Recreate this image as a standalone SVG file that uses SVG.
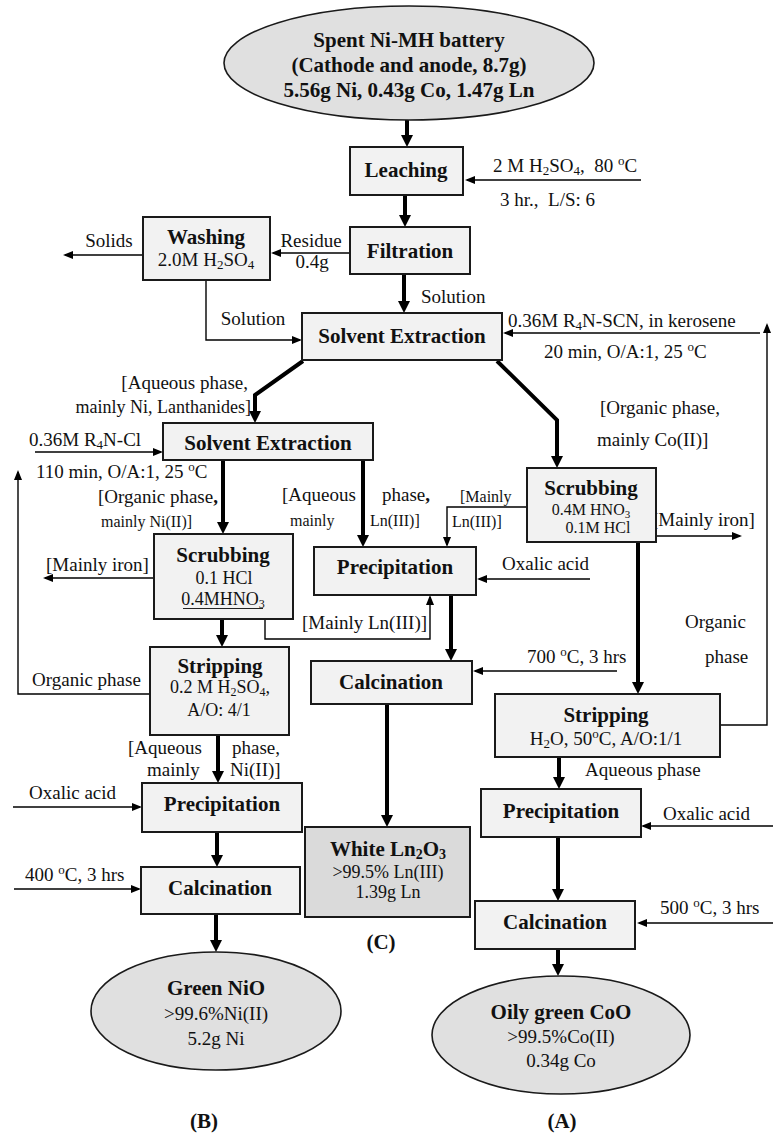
<svg xmlns="http://www.w3.org/2000/svg" width="773" height="1134" viewBox="0 0 773 1134">
<style>
.box{fill:#f2f2f2;stroke:#1a1a1a;stroke-width:2}
.dark{fill:#dadada}
.oval{fill:#e0e0e0;stroke:#1a1a1a;stroke-width:1.6}
.t{font-family:"Liberation Serif","Times New Roman",serif;font-weight:bold;font-size:21px;text-anchor:middle;fill:#111}
.l{font-family:"Liberation Serif","Times New Roman",serif;font-size:19px;fill:#111}
.m{text-anchor:middle}
.e{text-anchor:end}
.s{font-size:16px}
.s18{font-size:18px}
.thick{stroke:#000;stroke-width:4;fill:none;marker-end:url(#ah)}
.thin{stroke:#000;stroke-width:1.4;fill:none;marker-end:url(#at)}
.ln{stroke:#000;stroke-width:1.4;fill:none}
</style>
<defs>
<marker id="ah" markerUnits="userSpaceOnUse" markerWidth="12" markerHeight="12" refX="8" refY="6" orient="auto"><path d="M0,0 L12,6 L0,12 z" fill="#000"/></marker>
<marker id="at" markerUnits="userSpaceOnUse" markerWidth="10" markerHeight="8" refX="8" refY="4" orient="auto"><path d="M0,0 L10,4 L0,8 z" fill="#000"/></marker>
</defs>
<g id="connectors">
<path class="thick" d="M407,120 V143"/>
<path class="thin" d="M641,180 H467"/>
<path class="thick" d="M405,195 V223"/>
<path class="thin" d="M350,253 H273"/>
<path class="thin" d="M143,255 H65"/>
<path class="thin" d="M206,280 V340 H300"/>
<path class="thick" d="M404,274 V309"/>
<path class="thin" d="M760,333 H505"/>
<path class="thin" d="M720,725 H767 V325"/>
<path class="thick" d="M303,361 L255,395 V419"/>
<path class="thick" d="M497,361 L557,420 V464"/>
<path class="thin" d="M35,452 H161"/>
<path class="thin" d="M150,694 H18 V472"/>
<path class="thick" d="M223,460 V530"/>
<path class="thick" d="M363,460 V543"/>
<path class="thin" d="M543,507 H447 V545"/>
<path class="thin" d="M630,536 H740"/>
<path class="thick" d="M638,542 V690"/>
<path class="thin" d="M187,578 H45"/>
<path class="thin" d="M265,607 V639 H430 V597"/>
<path class="thin" d="M590,579 H479"/>
<path class="thick" d="M451,595 V657"/>
<path class="thin" d="M617,671 H475"/>
<path class="thick" d="M387,704 V823"/>
<path class="thick" d="M222,619 V643"/>
<path class="thick" d="M218,735 V779"/>
<path class="thin" d="M13,807 H140"/>
<path class="thick" d="M217,832 V863"/>
<path class="thin" d="M14,889 H139"/>
<path class="thick" d="M216,914 V948"/>
<path class="thick" d="M559,757 V785"/>
<path class="thin" d="M773,826 H643"/>
<path class="thick" d="M558,837 V897"/>
<path class="thin" d="M773,923 H639"/>
<path class="thick" d="M558,949 V972"/>
<text class="l" x="493" y="172">2 M H<tspan font-size="13" baseline-shift="-3">2</tspan>SO<tspan font-size="13" baseline-shift="-3">4</tspan>,&#160; 80 <tspan font-size="13" baseline-shift="7">o</tspan>C</text>
<text class="l" x="500" y="206">3 hr.,&#160; L/S: 6</text>
<text class="l m" x="311" y="247">Residue</text>
<text class="l m" x="312" y="268">0.4g</text>
<text class="l m" x="109" y="247">Solids</text>
<text class="l m" x="253" y="325">Solution</text>
<text class="l" x="421" y="303">Solution</text>
<text class="l" x="508" y="327">0.36M R<tspan font-size="13" baseline-shift="-3">4</tspan>N-SCN, in kerosene</text>
<text class="l" x="544" y="358">20 min, O/A:1, 25 <tspan font-size="13" baseline-shift="7">o</tspan>C</text>
<text class="l e" x="248" y="389">[Aqueous phase,</text>
<text class="l e s18" x="251" y="413">mainly Ni, Lanthanides]</text>
<text class="l" x="600" y="414">[Organic phase,</text>
<text class="l" x="597" y="446">mainly Co(II)]</text>
<text class="l" x="29" y="446">0.36M R<tspan font-size="13" baseline-shift="-3">4</tspan>N-Cl</text>
<text class="l" x="36" y="478">110 min, O/A:1, 25 <tspan font-size="13" baseline-shift="7">o</tspan>C</text>
<text class="l" x="32" y="686">Organic phase</text>
<text class="l" x="98" y="503">[Organic phase<tspan font-weight="bold">,</tspan></text>
<text class="l s" x="101" y="527">mainly Ni(II)]</text>
<text class="l" x="282" y="501">[Aqueous</text>
<text class="l" x="382" y="501">phase<tspan font-weight="bold">,</tspan></text>
<text class="l s" x="290" y="526">mainly</text>
<text class="l s" x="370" y="526">Ln(III)]</text>
<text class="l s" x="460" y="502">[Mainly</text>
<text class="l s" x="452" y="527">Ln(III)]</text>
<text class="l" x="652" y="526">[Mainly iron]</text>
<text class="l" x="46" y="571">[Mainly iron]</text>
<text class="l" x="302" y="629">[Mainly Ln(III)]</text>
<text class="l" x="502" y="570">Oxalic acid</text>
<text class="l" x="527" y="663">700 <tspan font-size="13" baseline-shift="7">o</tspan>C, 3 hrs</text>
<text class="l" x="128" y="754">[Aqueous</text>
<text class="l" x="147" y="776">mainly</text>
<text class="l" x="232" y="754">phase,</text>
<text class="l" x="230" y="776">Ni(II)]</text>
<text class="l" x="29" y="799">Oxalic acid</text>
<text class="l" x="25" y="881">400 <tspan font-size="13" baseline-shift="7">o</tspan>C, 3 hrs</text>
<text class="l" x="685" y="628">Organic</text>
<text class="l" x="705" y="663">phase</text>
<text class="l" x="585" y="776">Aqueous phase</text>
<text class="l" x="663" y="820">Oxalic acid</text>
<text class="l" x="660" y="914">500 <tspan font-size="13" baseline-shift="7">o</tspan>C, 3 hrs</text>
</g>
<g id="battery">
<ellipse class="oval" cx="409" cy="63" rx="185" ry="57"/>
<text class="t" x="409" y="47" font-size="20">Spent Ni-MH battery</text>
<text class="t" x="409" y="72" font-size="15">(Cathode and anode, 8.7g)</text>
<text class="t" x="409" y="97" font-size="19">5.56g Ni, 0.43g Co, 1.47g Ln</text>
</g>
<g id="leaching"><rect class="box" x="350" y="147" width="113" height="48"/><text class="t" x="406" y="177">Leaching</text></g>
<g id="filtration"><rect class="box" x="350" y="227" width="120" height="47"/><text class="t" x="410" y="258">Filtration</text></g>
<g id="washing"><rect class="box" x="143" y="217" width="127" height="63"/><text class="t" x="206" y="244">Washing</text><text class="l m" x="206" y="266">2.0M H<tspan font-size="13" baseline-shift="-3">2</tspan>SO<tspan font-size="13" baseline-shift="-3">4</tspan></text></g>
<g id="sx1"><rect class="box" x="302" y="313" width="200" height="47"/><text class="t" x="402" y="343">Solvent Extraction</text></g>
<g id="sx2"><rect class="box" x="163" y="423" width="210" height="37"/><text class="t" x="268" y="450">Solvent Extraction</text></g>
<g id="scrub-co"><rect class="box" x="527" y="468" width="129" height="74"/><text class="t" x="591" y="495">Scrubbing</text><text class="l m s" x="591" y="515">0.4M HNO<tspan font-size="11" baseline-shift="-3">3</tspan></text><text class="l m s" x="598" y="533">0.1M HCl</text></g>
<g id="scrub-ni"><rect class="box" x="154" y="534" width="139" height="85"/><text class="t" x="223" y="562">Scrubbing</text><text class="l m s18" x="224" y="584">0.1 HCl</text><text class="l m s18" x="223" y="605">0.4MHNO<tspan font-size="12" baseline-shift="-3">3</tspan></text><path d="M183,608.5 H263" stroke="#222" stroke-width="1"/></g>
<g id="precip-ln"><rect class="box" x="314" y="547" width="162" height="48"/><text class="t" x="395" y="574">Precipitation</text></g>
<g id="calc-ln"><rect class="box" x="311" y="661" width="161" height="43"/><text class="t" x="391" y="689">Calcination</text></g>
<g id="ln2o3"><rect class="box dark" x="305" y="827" width="165" height="90"/><text class="t" x="388" y="856">White Ln<tspan font-size="14" baseline-shift="-3">2</tspan>O<tspan font-size="14" baseline-shift="-3">3</tspan></text><text class="l m s18" x="388" y="878">&gt;99.5% Ln(III)</text><text class="l m s18" x="388" y="898">1.39g Ln</text></g>
<g id="strip-ni"><rect class="box" x="150" y="647" width="139" height="88"/><text class="t" x="220" y="673">Stripping</text><text class="l m s18" x="220" y="693">0.2 M H<tspan font-size="12" baseline-shift="-3">2</tspan>SO<tspan font-size="12" baseline-shift="-3">4</tspan>,</text><text class="l m s18" x="219" y="716">A/O: 4/1</text></g>
<g id="precip-ni"><rect class="box" x="142" y="783" width="160" height="49"/><text class="t" x="222" y="811">Precipitation</text></g>
<g id="calc-ni"><rect class="box" x="141" y="867" width="159" height="47"/><text class="t" x="220" y="895">Calcination</text></g>
<g id="nio"><ellipse class="oval" cx="216" cy="1011" rx="125" ry="59"/><text class="t" x="216" y="995">Green NiO</text><text class="l m" x="216" y="1020" font-size="21">&gt;99.6%Ni(II)</text><text class="l m" x="216" y="1045" font-size="21">5.2g Ni</text></g>
<g id="strip-co"><rect class="box" x="495" y="694" width="225" height="63"/><text class="t" x="606" y="722">Stripping</text><text class="l m" x="606" y="745">H<tspan font-size="13" baseline-shift="-3">2</tspan>O, 50<tspan font-size="13" baseline-shift="7">o</tspan>C, A/O:1/1</text></g>
<g id="precip-co"><rect class="box" x="481" y="789" width="160" height="48"/><text class="t" x="561" y="818">Precipitation</text></g>
<g id="calc-co"><rect class="box" x="475" y="901" width="160" height="48"/><text class="t" x="555" y="929">Calcination</text></g>
<g id="coo"><ellipse class="oval" cx="561" cy="1035" rx="129" ry="59"/><text class="t" x="561" y="1019">Oily green CoO</text><text class="l m" x="561" y="1043" font-size="21">&gt;99.5%Co(II)</text><text class="l m" x="561" y="1067" font-size="21">0.34g Co</text></g>
<g id="captions">
<text class="t" x="204" y="1128" font-size="19">(B)</text>
<text class="t" x="381" y="949" font-size="19">(C)</text>
<text class="t" x="562" y="1128" font-size="19">(A)</text>
</g>
</svg>
